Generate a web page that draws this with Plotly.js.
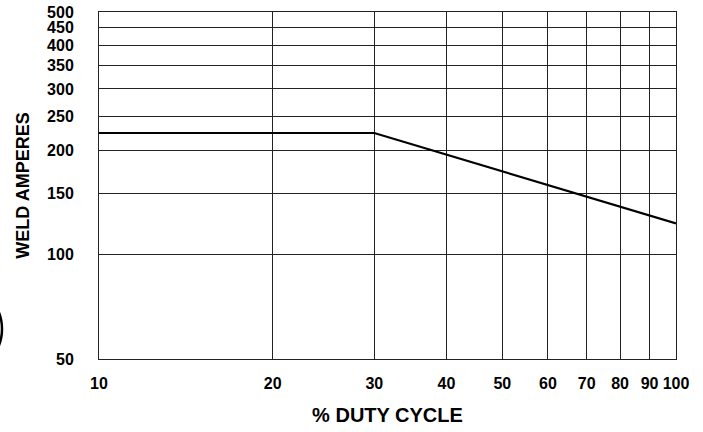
<!DOCTYPE html>
<html>
<head>
<meta charset="utf-8">
<script src="https://cdn.plot.ly/plotly-3.0.1.min.js"></script>
<style>
html,body{margin:0;padding:0;background:#fff;}
#chart{width:703px;height:432px;}
</style>
</head>
<body>
<div id="chart"></div>
<script>
// Duty cycle (%) and rated weld amperes
var dutyCycle = [10, 30, 100];
var weldAmps = [224, 224, 123];

var xTicks = [10, 20, 30, 40, 50, 60, 70, 80, 90, 100];
var xTickLabels = ['10', '20', '30', '40', '50', '60', '70', '80', '90', '100'];
var yTicks = [50, 100, 150, 200, 250, 300, 350, 400, 450, 500];
var yTickLabels = ['50', '100', '150', '200', '250', '300', '350', '400', '450', '500'];

var FONT = 'Liberation Sans, Arial, Helvetica, sans-serif';

var trace = {
  x: dutyCycle,
  y: weldAmps,
  type: 'scatter',
  mode: 'lines',
  line: {color: '#000', width: 2.2},
  hoverinfo: 'skip',
  showlegend: false
};

var layout = {
  width: 703,
  height: 432,
  margin: {l: 99, r: 27, t: 12, b: 73},
  paper_bgcolor: '#fff',
  plot_bgcolor: '#fff',
  font: {family: FONT, color: '#000'},
  xaxis: {
    type: 'log',
    range: [1, 2],
    tickmode: 'array',
    tickvals: xTicks,
    ticktext: xTickLabels,
    ticks: '',
    ticklabelstandoff: 10,
    tickfont: {family: FONT, size: 16, color: '#000', weight: 'bold'},
    showgrid: true,
    gridcolor: '#222',
    gridwidth: 1,
    showline: true,
    linecolor: '#222',
    linewidth: 1,
    mirror: true,
    zeroline: false,
    title: {text: '% DUTY CYCLE', font: {family: FONT, size: 20, color: '#000', weight: 'bold'}, standoff: 16}
  },
  yaxis: {
    type: 'log',
    range: [Math.log10(50), Math.log10(500)],
    tickmode: 'array',
    tickvals: yTicks,
    ticktext: yTickLabels,
    ticks: '',
    ticklabelstandoff: 21,
    tickfont: {family: FONT, size: 16, color: '#000', weight: 'bold'},
    showgrid: true,
    gridcolor: '#222',
    gridwidth: 1,
    showline: true,
    linecolor: '#222',
    linewidth: 1,
    mirror: true,
    zeroline: false,
    title: {text: 'WELD AMPERES', font: {family: FONT, size: 18, color: '#000', weight: 'bold'}, standoff: 12}
  },
  shapes: [{
    type: 'circle',
    xref: 'paper', yref: 'paper',
    x0: -0.3189, x1: -0.1681,
    y0: -0.0403, y1: 0.2133,
    line: {color: '#000', width: 2.5}
  }]
};

Plotly.newPlot('chart', [trace], layout, {displayModeBar: false, staticPlot: true});
</script>
</body>
</html>
